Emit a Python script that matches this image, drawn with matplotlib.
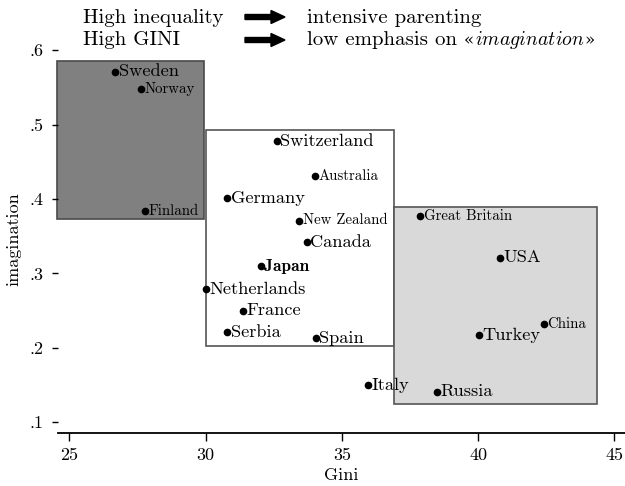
import matplotlib
matplotlib.use("Agg")
import matplotlib.pyplot as plt
from matplotlib.patches import Rectangle, FancyArrow

plt.rcParams['font.family'] = ['cmr10', 'DejaVu Serif']
plt.rcParams['mathtext.fontset'] = 'cm'
plt.rcParams['axes.formatter.use_mathtext'] = True

countries = ["Sweden", "Norway", "Finland", "Switzerland", "Australia", "Germany",
             "New Zealand", "Canada", "Japan", "Netherlands", "France", "Serbia",
             "Spain", "Italy", "Great Britain", "USA", "China", "Turkey", "Russia"]
gini = [26.68, 27.63, 27.78, 32.62, 34.02, 30.79, 33.43, 33.72, 32.03, 30.02,
        31.38, 30.79, 34.05, 35.96, 37.87, 40.80, 42.42, 40.03, 38.49]
imagination = [0.571, 0.548, 0.384, 0.478, 0.431, 0.401, 0.371, 0.342, 0.310, 0.279,
               0.250, 0.221, 0.213, 0.150, 0.377, 0.321, 0.232, 0.217, 0.141]
small_labels = ["Norway", "Finland", "Australia", "New Zealand", "Great Britain", "China"]
bold_labels = ["Japan"]

# group boxes: (x0, x1, y0, y1)
box_dark = (24.56, 29.94, 0.373, 0.586)
box_white = (30.0, 36.92, 0.203, 0.493)
box_light = (36.92, 44.36, 0.124, 0.389)

xticks = [25, 30, 35, 40, 45]
yticks = [0.1, 0.2, 0.3, 0.4, 0.5, 0.6]
ytick_labels = [".1", ".2", ".3", ".4", ".5", ".6"]

W, H = 625, 486
fig = plt.figure(figsize=(W / 100, H / 100), dpi=100)
left_px, right_px, bottom_px, top_px = 58, 625, 432.7, 45
ax = fig.add_axes([left_px / W, (H - bottom_px) / H,
                   (right_px - left_px) / W, (bottom_px - top_px) / H])

ax.set_xlim(24.585, 45.39)
ax.set_ylim(0.086, 0.607)

def add_box(b, face, edge):
    x0, x1, y0, y1 = b
    ax.add_patch(Rectangle((x0, y0), x1 - x0, y1 - y0, facecolor=face,
                           edgecolor=edge, linewidth=1.2, zorder=1, clip_on=False))

add_box(box_dark, "#808080", "#4a4a4a")
add_box(box_white, "white", "#555555")
add_box(box_light, "#d9d9d9", "#555555")

ax.plot(gini, imagination, 'o', color='black', markersize=4.5, zorder=3, linestyle='none')
for c, x, y in zip(countries, gini, imagination):
    if c in small_labels:
        fam, size = ['cmr10', 'DejaVu Serif'], 10.7
    elif c in bold_labels:
        fam, size = ['cmb10', 'DejaVu Serif'], 12.5
    else:
        fam, size = ['cmr10', 'DejaVu Serif'], 13.2
    ax.annotate(c, (x, y), xytext=(2.5, 0), textcoords='offset points',
                ha='left', va='center', family=fam, fontsize=size, zorder=4)

for s in ['top', 'right', 'left']:
    ax.spines[s].set_visible(False)
ax.spines['bottom'].set_linewidth(1.3)

ax.set_xticks(xticks)
ax.set_xticklabels([str(t) for t in xticks])
ax.set_yticks(yticks)
ax.set_yticklabels(ytick_labels)
ax.tick_params(axis='x', length=6, width=1.0, pad=5, labelsize=13)
ax.tick_params(axis='y', length=4.5, width=1.0, pad=6, labelsize=13)

ax.set_xlabel("Gini", fontsize=13, labelpad=3)
ax.set_ylabel("imagination", fontsize=13, labelpad=6)

# header
fs = 15
base1, base2 = 23, 45  # baselines in px from top
fig.text(83 / W, 1 - base1 / H, "High inequality", fontsize=fs, va='baseline', ha='left')
fig.text(83 / W, 1 - base2 / H, "High GINI", fontsize=fs, va='baseline', ha='left')
fig.text(307 / W, 1 - base1 / H, "intensive parenting", fontsize=fs, va='baseline', ha='left')

renderer = fig.canvas.get_renderer()
pieces = [("low emphasis on ", ['cmr10'], fs),
          ("«", ['DejaVu Serif'], 12),
          ("$\\mathit{imagination}$", ['cmr10'], 14.2),
          ("»", ['DejaVu Serif'], 12)]
xpos = 307.0
for txt, fam, size in pieces:
    t = fig.text(xpos / W, 1 - base2 / H, txt, fontsize=size, family=fam,
                 va='baseline', ha='left')
    bb = t.get_window_extent(renderer)
    xpos += bb.width + (1.0 if txt == "«" else 0.0)

for yp in (17, 40):
    fig.patches.append(FancyArrow(245 / W, 1 - yp / H, 40 / W, 0, width=5 / H,
                                  head_width=13 / H, head_length=14 / W,
                                  length_includes_head=True, color='black',
                                  transform=fig.transFigure, figure=fig))

fig.savefig("out.png", dpi=100)
